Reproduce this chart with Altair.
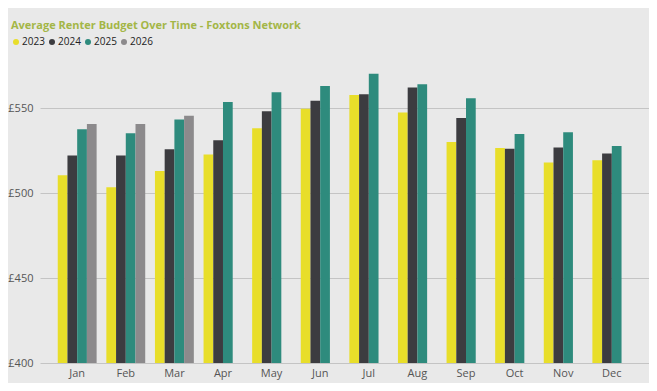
import altair as alt
import pandas as pd

months = ["Jan", "Feb", "Mar", "Apr", "May", "Jun", "Jul", "Aug", "Sep", "Oct", "Nov", "Dec"]
years = ["2023", "2024", "2025", "2026"]
v2023 = [510.4, 503.4, 512.9, 522.6, 538.1, 549.6, 557.6, 547.3, 530.0, 526.5, 517.9, 519.2]
v2024 = [522.0, 522.0, 525.7, 531.0, 548.1, 554.3, 558.1, 562.0, 544.1, 526.1, 526.7, 523.2]
v2025 = [537.5, 535.1, 543.2, 553.5, 559.2, 563.0, 570.2, 563.9, 555.7, 534.7, 535.7, 527.6]
v2026 = [540.6, 540.6, 545.5]
colors = ["#E8DE2A", "#3C3C40", "#2E8B7D", "#8C8A8C"]
yticks = [400, 450, 500, 550]

rows = []
for series, yr in zip([v2023, v2024, v2025, v2026], years):
    for m, v in zip(months, series):
        rows.append({"Month": m, "Year": yr, "Budget": v})
df = pd.DataFrame(rows)

FONT = "Open Sans"

chart = alt.Chart(df).mark_bar(clip=True).encode(
    x=alt.X("Month:N", sort=months, title=None,
            scale=alt.Scale(paddingInner=0.2, paddingOuter=0.365),
            axis=alt.Axis(labelAngle=0, domain=False, ticks=False, labelPadding=4,
                          labelFontSize=11, labelColor="#555555", labelFont=FONT)),
    xOffset=alt.XOffset("Year:N", sort=years, scale=alt.Scale(paddingInner=0, paddingOuter=0)),
    y=alt.Y("Budget:Q", title=None,
            scale=alt.Scale(domain=[400, 580], nice=False, zero=False),
            axis=alt.Axis(values=yticks, format="d", labelExpr="'£' + datum.label",
                          domain=False, ticks=False, labelPadding=7,
                          labelFontSize=11, labelColor="#555555", labelFont=FONT,
                          grid=True, gridColor="#C4C4C4", gridWidth=1)),
    color=alt.Color("Year:N", sort=years,
                    scale=alt.Scale(domain=years, range=colors),
                    legend=alt.Legend(orient="none", legendX=-29, legendY=-20,
                                      direction="horizontal", title=None,
                                      symbolType="circle", symbolSize=36,
                                      labelFontSize=10, labelColor="#222222", labelFont=FONT,
                                      labelOffset=1, columnPadding=2, symbolStrokeWidth=0)),
).properties(
    width=609,
    height=306,
    autosize=alt.AutoSizeParams(type="none"),
    padding={"left": 32, "top": 49, "right": 0, "bottom": 20},
    background="#E9E9E9",
    title=alt.Title("Average Renter Budget Over Time - Foxtons Network",
                    anchor="start", frame="group", dx=-29, offset=6,
                    font=FONT, fontSize=11, fontWeight="bold", color="#A3B646"),
).configure_view(stroke=None)

chart.save("out.html", embed_options={"renderer": "svg", "actions": False})
